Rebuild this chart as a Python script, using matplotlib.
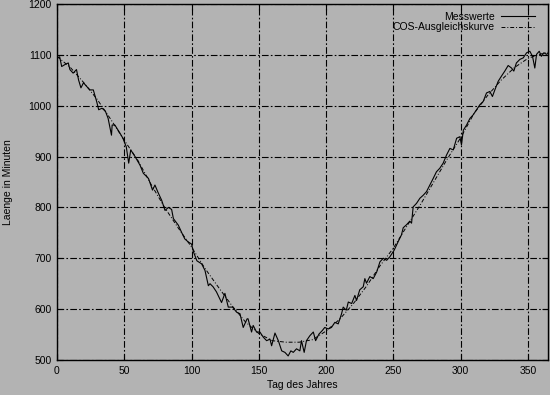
import matplotlib
matplotlib.use("Agg")
import matplotlib.pyplot as plt

tage = [0.5, 2, 3.5, 6, 8.4, 9.6, 12, 14.5, 16, 17.8, 19.7, 22, 24.5, 27, 29.5, 31,
        33.5, 36, 38, 40.5, 41, 43, 46.8, 49, 51.5, 53.3, 54.8, 58, 61.7, 64.2, 68,
        71, 72.8, 75, 77.8, 80.3, 82.8, 85.2, 86.5, 90.2, 92.6, 95, 97.6, 100, 101.5,
        104, 107.5, 110, 112.5, 113.7, 116, 118.5, 122.3, 124.8, 127.3, 130.5, 133.5,
        136, 138.4, 141.3, 142, 144.6, 145.8, 148.3, 150.8, 153.3, 155.8, 158.3, 159.5,
        162, 164.5, 167, 169.4, 171.8, 173.8, 175.6, 178, 180.5, 181.7, 183.7, 185.4,
        188, 190.5, 192.2, 194.7, 197.2, 199, 201.6, 204, 206.5, 209, 211.5, 212.7,
        215, 216.5, 219, 221.4, 222.6, 225, 227.6, 228.8, 230, 232.5, 235, 237.6, 240,
        242.5, 245, 247.4, 250.6, 253.6, 256, 257.3, 259.8, 262.2, 263.5, 264.7, 267.2,
        269.7, 272.2, 274.6, 277.1, 279.6, 282, 284.5, 287, 289.5, 292, 294.5, 297,
        299.4, 300.6, 302, 304.4, 306.9, 309.3, 311.8, 314.3, 316.7, 319.2, 321.7,
        323.6, 325.4, 327.9, 330.3, 332.8, 335.3, 337.8, 339.5, 341.4, 344, 346.5, 349,
        351.4, 353.4, 355.1, 356.4, 358.4, 360, 361.8, 363.8, 365]
werte = [1094, 1096, 1077, 1081, 1084, 1071, 1064, 1071, 1051, 1035, 1045, 1038, 1031,
         1031, 1008, 992, 995, 989, 975, 942, 962, 962, 946, 936, 919, 887, 913, 900,
         883, 867, 857, 834, 844, 830, 814, 794, 800, 796, 778, 765, 751, 738, 732, 728,
         712, 695, 689, 676, 646, 650, 644, 634, 613, 631, 604, 604, 594, 591, 564, 581,
         581, 555, 568, 555, 555, 545, 538, 541, 528, 553, 538, 518, 515, 508, 518, 515,
         522, 518, 538, 515, 538, 548, 555, 538, 551, 558, 564, 561, 564, 574, 571, 591,
         604, 598, 614, 611, 627, 617, 638, 644, 660, 651, 664, 660, 673, 693, 700, 696,
         703, 716, 733, 746, 760, 766, 773, 769, 801, 808, 818, 824, 831, 844, 857, 870,
         877, 887, 903, 916, 913, 936, 939, 923, 952, 962, 975, 982, 992, 1002, 1008,
         1025, 1028, 1018, 1031, 1048, 1058, 1068, 1079, 1074, 1068, 1084, 1091, 1094,
         1104, 1107, 1097, 1074, 1101, 1107, 1097, 1104, 1101, 1103]

# COS-Ausgleichskurve
fit_tage = [0, 10, 20, 30, 40, 50, 60, 70, 80, 90, 100, 110, 120, 130, 140, 150, 160,
            170, 180, 190, 200, 210, 220, 230, 240, 250, 260, 270, 280, 290, 300, 310,
            320, 330, 340, 350, 360, 365]
fit_werte = [1097, 1075, 1045, 1012, 973, 932, 893, 845, 800, 760, 722, 680, 643, 607,
             575, 552, 538, 535, 535, 540, 557, 580, 610, 645, 685, 720, 763, 805, 850,
             895, 937, 985, 1020, 1050, 1075, 1093, 1102, 1105]

plt.rcParams['font.family'] = ['Liberation Sans', 'DejaVu Sans']
plt.rcParams['font.size'] = 7.5

bg = '#b3b3b3'
fig = plt.figure(figsize=(5.5, 3.95), dpi=100, facecolor=bg)
ax = fig.add_axes([0.1036, 0.0886, 0.893, 0.9014], facecolor=bg)

ax.plot(tage, werte, color='black', lw=0.8, label='Messwerte')
ax.plot(fit_tage, fit_werte, color='black', lw=0.7, dashes=(4, 2, 1, 2),
        label='COS-Ausgleichskurve')

ax.set_xlim(0, 365)
ax.set_ylim(500, 1200)
ax.set_xticks(range(0, 351, 50))
ax.set_yticks(range(500, 1201, 100))
ax.grid(True, color='black', lw=0.8, dashes=(6, 2, 1.5, 2))
ax.tick_params(direction='in', length=4, top=True, right=True, width=0.8, pad=4)
for s in ax.spines.values():
    s.set_linewidth(1.0)

ax.set_xlabel('Tag des Jahres', labelpad=3)
ax.set_ylabel('Laenge in Minuten', labelpad=11)

leg = ax.legend(loc='upper right', bbox_to_anchor=(0.982, 0.99), frameon=False,
                markerfirst=False, handlelength=3.3, handletextpad=0.6,
                labelspacing=0.05, borderaxespad=0.0, fontsize=7.5)
for t in leg.get_texts():
    t.set_ha('right')

fig.savefig('out.png', dpi=100, facecolor=bg)
